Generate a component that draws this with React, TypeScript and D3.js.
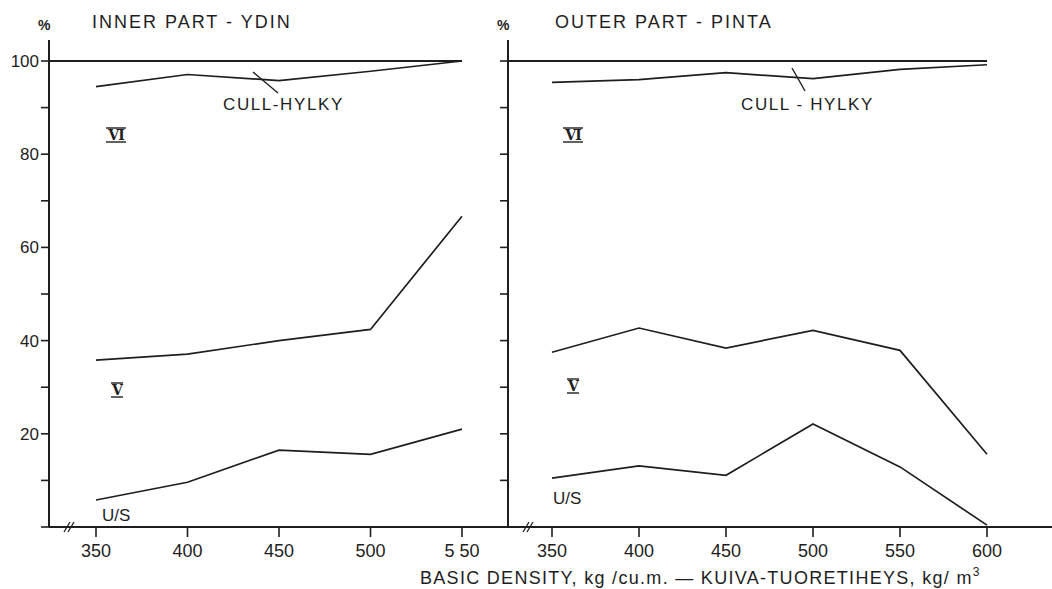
import React from 'react';
import * as d3 from 'd3';

// density classes, kg/m3
const densityInner = [350, 400, 450, 500, 550];
const densityOuter = [350, 400, 450, 500, 550, 600];

// cumulative % of sawn goods by grade
const innerCull = [94.5, 97.1, 95.8, 97.8, 100];
const innerVI = [35.8, 37.1, 40.0, 42.4, 66.7];
const innerUS = [5.8, 9.6, 16.5, 15.6, 21.0];

const outerCull = [95.4, 96.0, 97.5, 96.2, 98.2, 99.2];
const outerVI = [37.5, 42.7, 38.4, 42.2, 37.9, 15.6];
const outerUS = [10.5, 13.1, 11.1, 22.1, 12.9, 0.4];

const yTicks = [0, 10, 20, 30, 40, 50, 60, 70, 80, 90, 100];
const yLabels = [20, 40, 60, 80, 100];

const W = 1052;
const H = 589;
const ink = '#1e1e1e';
const font = '"Liberation Sans", "DejaVu Sans", sans-serif';

const y = d3.scaleLinear().domain([0, 100]).range([527, 61]);
const xL = d3.scaleLinear().domain([350, 550]).range([96, 462]);
const xR = d3.scaleLinear().domain([350, 600]).range([552, 987]);

const axisL = 49;
const axisR = 508;
const base = y(0);

function Roman({ x, yy, label }) {
  const w = label.length * 8 + 4;
  return (
    <g>
      <text x={x} y={yy} fontFamily='"DejaVu Serif", serif' fontWeight="bold" fontSize={14} letterSpacing={-1} textAnchor="middle" fill={ink}>{label}</text>
      <line x1={x - w / 2} x2={x + w / 2} y1={yy - 12} y2={yy - 12} stroke={ink} strokeWidth={1.4} />
      <line x1={x - w / 2} x2={x + w / 2} y1={yy + 2} y2={yy + 2} stroke={ink} strokeWidth={1.4} />
    </g>
  );
}

function Panel({ xs, dens, cull, vi, us, axisX, showLabels, lineEnd, title, titleX, cullMark, cullLabel, cullLabelX, viPos, vPos, usPos }) {
  const line = d3.line<number>()
    .x((d, i) => xs(dens[i]))
    .y(d => y(d));
  return (
    <g>
      {/* y axis */}
      <line x1={axisX} x2={axisX} y1={40} y2={base} stroke={ink} strokeWidth={2} />
      {yTicks.map(t => (
        <line key={t} x1={axisX - 8} x2={axisX} y1={y(t)} y2={y(t)} stroke={ink} strokeWidth={1.6} />
      ))}
      {showLabels && yLabels.map(t => (
        <text key={t} x={axisX - 10} y={y(t) + 6} textAnchor="end" fontFamily={font} fontSize={17} fill={ink}>{t}</text>
      ))}
      <text x={axisX - 11} y={30} fontFamily={font} fontSize={14} fontWeight="bold" fill={ink}>%</text>
      <text x={titleX} y={28} fontFamily={font} fontSize={18} letterSpacing={2} fill={ink}>{title}</text>

      {/* 100 % line */}
      <line x1={axisX} x2={lineEnd} y1={y(100)} y2={y(100)} stroke={ink} strokeWidth={2} />

      {/* x ticks and labels */}
      {dens.map(d => (
        <g key={d}>
          <line x1={xs(d)} x2={xs(d)} y1={base} y2={base + 10} stroke={ink} strokeWidth={1.6} />
          <text x={xs(d)} y={base + 30} textAnchor="middle" fontFamily={font} fontSize={18} fill={ink}>{d === 550 && showLabels ? '5 50' : d}</text>
        </g>
      ))}
      {/* axis break */}
      <line x1={axisX + 15} x2={axisX + 21} y1={base + 5} y2={base - 5} stroke={ink} strokeWidth={1.3} />
      <line x1={axisX + 19} x2={axisX + 25} y1={base + 5} y2={base - 5} stroke={ink} strokeWidth={1.3} />

      <path d={line(cull)} fill="none" stroke={ink} strokeWidth={1.7} />
      <path d={line(vi)} fill="none" stroke={ink} strokeWidth={1.7} />
      <path d={line(us)} fill="none" stroke={ink} strokeWidth={1.7} />

      <line x1={cullMark[0]} y1={cullMark[1]} x2={cullMark[2]} y2={cullMark[3]} stroke={ink} strokeWidth={1.4} />
      <text x={cullLabelX} y={110} fontFamily={font} fontSize={17} letterSpacing={1.6} fill={ink}>{cullLabel}</text>

      <Roman x={viPos[0]} yy={viPos[1]} label="VI" />
      <Roman x={vPos[0]} yy={vPos[1]} label="V" />
      <text x={usPos[0]} y={usPos[1]} fontFamily={font} fontSize={17} fill={ink}>U/S</text>
    </g>
  );
}

export default function App() {
  return (
    <svg width={W} height={H} style={{ position: 'absolute', left: 0, top: 0, background: '#fff' }}>
      <rect width={W} height={H} fill="#fff" />
      {/* shared x axis */}
      <line x1={axisL} x2={W} y1={base} y2={base} stroke={ink} strokeWidth={2} />

      <Panel xs={xL} dens={densityInner} cull={innerCull} vi={innerVI} us={innerUS}
        axisX={axisL} showLabels={true} lineEnd={xL(550)}
        title="INNER PART - YDIN" titleX={92}
        cullMark={[253, 72, 278, 93]} cullLabel="CULL-HYLKY" cullLabelX={223}
        viPos={[116, 140]} vPos={[117, 395]} usPos={[102, 521]} />

      <Panel xs={xR} dens={densityOuter} cull={outerCull} vi={outerVI} us={outerUS}
        axisX={axisR} showLabels={false} lineEnd={xR(600)}
        title="OUTER PART - PINTA" titleX={555}
        cullMark={[792, 68, 805, 91]} cullLabel="CULL - HYLKY" cullLabelX={741}
        viPos={[573, 140]} vPos={[573, 391]} usPos={[553, 504]} />

      <text x={420} y={584} fontFamily={font} fontSize={18} letterSpacing={1.3} fill={ink}>
        BASIC DENSITY, kg /cu.m. — KUIVA-TUORETIHEYS, kg/ m<tspan dy={-8} fontSize={12}>3</tspan>
      </text>
    </svg>
  );
}
